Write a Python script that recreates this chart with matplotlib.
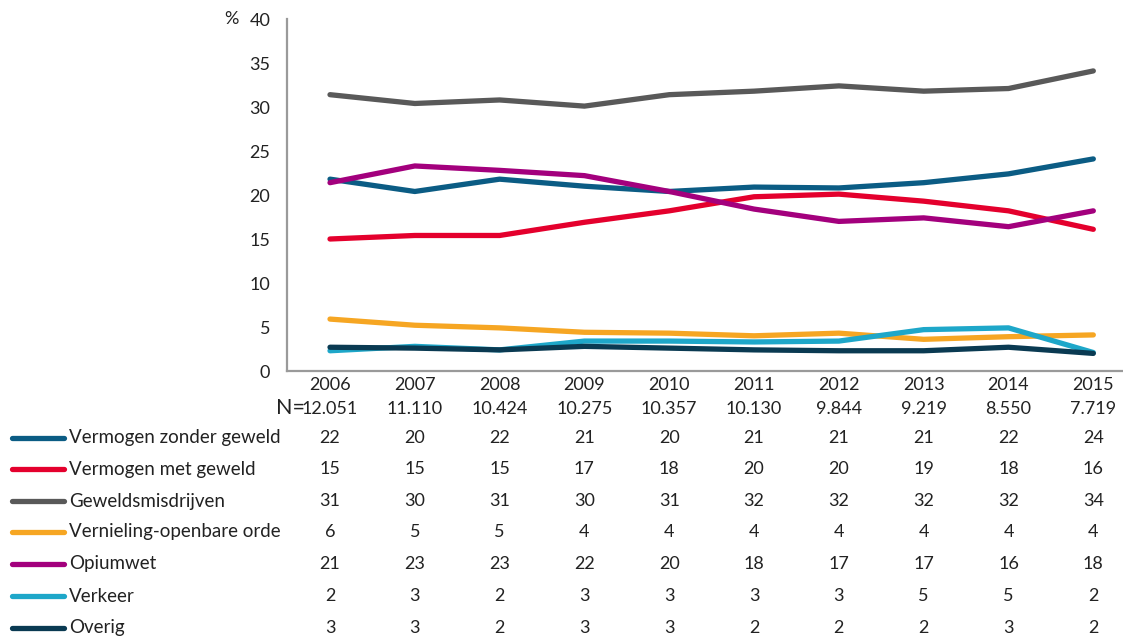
import matplotlib.pyplot as plt
from matplotlib.transforms import blended_transform_factory

plt.rcParams['font.family'] = ['Lato', 'DejaVu Sans']

years = ['2006', '2007', '2008', '2009', '2010', '2011', '2012', '2013', '2014', '2015']
n_values = ['12.051', '11.110', '10.424', '10.275', '10.357', '10.130', '9.844', '9.219', '8.550', '7.719']

categories = ['Vermogen zonder geweld', 'Vermogen met geweld', 'Geweldsmisdrijven',
              'Vernieling-openbare orde', 'Opiumwet', 'Verkeer', 'Overig']

vermogen_zonder = [21.8, 20.4, 21.8, 21.0, 20.4, 20.9, 20.8, 21.4, 22.4, 24.1]
vermogen_met = [15.0, 15.4, 15.4, 16.9, 18.2, 19.8, 20.1, 19.3, 18.2, 16.1]
geweld = [31.4, 30.4, 30.8, 30.1, 31.4, 31.8, 32.4, 31.8, 32.1, 34.1]
vernieling = [5.9, 5.2, 4.9, 4.4, 4.3, 4.0, 4.3, 3.6, 3.9, 4.1]
opiumwet = [21.4, 23.3, 22.8, 22.2, 20.4, 18.4, 17.0, 17.4, 16.4, 18.2]
verkeer = [2.3, 2.8, 2.4, 3.4, 3.4, 3.3, 3.4, 4.7, 4.9, 2.1]
overig = [2.7, 2.6, 2.4, 2.8, 2.6, 2.4, 2.3, 2.3, 2.7, 2.0]

series = [vermogen_zonder, vermogen_met, geweld, vernieling, opiumwet, verkeer, overig]
colors = ['#0b5c84', '#e4002d', '#595959', '#f6a623', '#a3007d', '#1ea7c9', '#0a3a52']

fig = plt.figure(figsize=(11.23, 6.38), dpi=100)
W, H = 1123, 638
ax = fig.add_axes([287 / W, 1 - 371 / H, 1 - 287 / W, (371 - 19) / H])

x = list(range(len(years)))
for vals, col in zip(series, colors):
    ax.plot(x, vals, color=col, lw=3.8, solid_capstyle='round', solid_joinstyle='round')

ax.set_ylim(0, 40)
ax.set_xlim(-0.507, 9.35)
ax.set_yticks(range(0, 41, 5))
ax.set_xticks([])
ax.tick_params(axis='y', length=0, pad=12, labelsize=13, labelcolor='#222222')
for s in ['top', 'right']:
    ax.spines[s].set_visible(False)
for s in ['left', 'bottom']:
    ax.spines[s].set_color('#9a9a9a')
    ax.spines[s].set_linewidth(1.6)

fig.text(224 / W, 1 - 19 / H, '%', ha='left', va='center', fontsize=13, color='#222222')

# year / N header and the data table under the chart
tr = blended_transform_factory(ax.transData, fig.transFigure)
for i, (yr, n) in enumerate(zip(years, n_values)):
    ax.text(i, 1 - 385 / H, yr, transform=tr, ha='center', va='center',
            fontsize=13, color='#222222', clip_on=False)
    ax.text(i, 1 - 409 / H, n, transform=tr, ha='center', va='center',
            fontsize=13, color='#222222', clip_on=False)
ax.text(-0.29, 1 - 408 / H, 'N=', transform=tr, ha='right', va='center',
        fontsize=15.5, color='#222222', clip_on=False)

row_y = [438, 469, 501, 532, 564, 596, 628]
for name, vals, col, ry in zip(categories, series, colors, row_y):
    yf = 1 - ry / H
    fig.add_artist(plt.Line2D([12 / W, 64 / W], [yf, yf], color=col, lw=3.8,
                              solid_capstyle='round', transform=fig.transFigure))
    fig.text(69 / W, yf, name, ha='left', va='center', fontsize=13.5, color='#222222')
    for i, v in enumerate(vals):
        ax.text(i, yf, f'{v:.0f}', transform=tr, ha='center', va='center',
                fontsize=13, color='#222222', clip_on=False)

fig.savefig('out.png', dpi=100)
